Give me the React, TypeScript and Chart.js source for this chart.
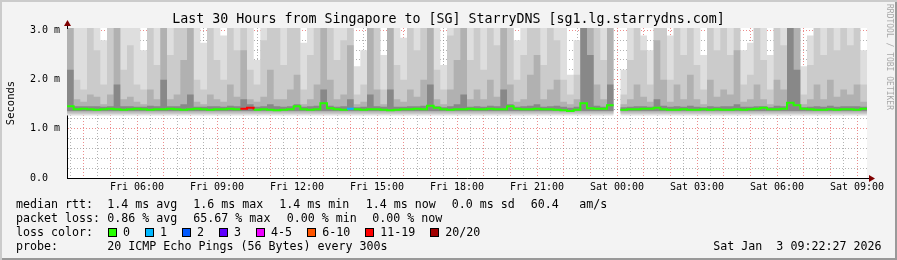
import React, { useEffect, useRef } from "react";
import { Chart, registerables } from "chart.js";

Chart.register(...registerables);

// ---------- data ----------
const SLOT_HOURS = 0.25; // 15-minute smoke slots
const RANGE_HOURS = 30;
const Y_MAX = 3.05;

// smoke layer tops (ms), lightest -> darkest
const smokeTop1 = [
  3.05, 3.05, 3.05, 3.05, 3.05, 2.8, 3.05, 3.05, 3.05, 3.05,
  3.05, 2.6, 3.05, 3.05, 3.05, 3.05, 3.05, 3.05, 3.05, 3.05,
  2.75, 3.05, 3.05, 2.9, 3.05, 3.05, 3.05, 3.05, 2.4, 3.05,
  3.05, 3.05, 3.05, 3.05, 3.05, 2.75, 3.05, 3.05, 3.05, 3.05,
  3.05, 3.05, 3.05, 2.27, 2.6, 3.05, 3.05, 2.5, 3.05, 3.05,
  2.85, 3.05, 3.05, 3.05, 3.05, 3.05, 2.3, 3.05, 3.05, 3.05,
  3.05, 3.05, 3.05, 3.05, 3.05, 3.05, 3.05, 2.8, 3.05, 3.05,
  3.05, 3.05, 3.05, 3.05, 3.05, 2.1, 2.8, 3.05, 3.05, 3.05,
  3.05, 3.05, null, 2.2, 3.05, 3.05, 2.9, 2.6, 3.05, 3.05,
  2.9, 3.05, 3.05, 3.05, 3.05, 2.5, 3.05, 3.05, 3.05, 3.05,
  3.05, 2.6, 2.75, 3.05, 3.05, 2.5, 3.05, 3.05, 3.05, 3.05,
  2.27, 2.9, 3.05, 3.05, 3.05, 3.05, 3.05, 3.05, 3.05, 2.6,
];
const smokeTop2 = [
  3.05, 2.0, 1.8, 3.05, 2.6, 1.9, 3.05, 3.05, 2.2, 2.7,
  1.9, 1.8, 3.05, 2.3, 3.05, 2.5, 3.05, 3.05, 3.05, 2.0,
  1.8, 3.05, 2.4, 2.0, 3.05, 2.6, 3.05, 2.2, 1.9, 2.8,
  3.05, 3.05, 2.3, 3.05, 3.05, 1.8, 2.5, 3.05, 3.05, 3.05,
  2.4, 2.8, 3.05, 1.7, 1.9, 3.05, 3.05, 1.8, 3.05, 2.3,
  2.0, 3.05, 2.6, 3.05, 3.05, 2.2, 1.8, 2.9, 3.05, 3.05,
  2.4, 3.05, 2.2, 3.05, 2.7, 3.05, 3.05, 2.0, 2.5, 3.05,
  3.05, 2.3, 3.05, 2.8, 2.0, 1.7, 2.1, 3.05, 3.05, 3.05,
  2.4, 3.05, null, 1.7, 2.4, 3.05, 2.6, 1.9, 3.05, 3.05,
  2.0, 3.05, 2.5, 3.05, 2.3, 1.8, 3.05, 2.6, 3.05, 2.5,
  3.05, 1.9, 2.1, 3.05, 2.4, 1.8, 3.05, 2.7, 3.05, 3.05,
  1.7, 2.3, 3.05, 2.5, 3.05, 2.6, 3.05, 2.7, 3.05, 1.9,
];
const smokeTop3 = [
  3.05, 1.6, 1.55, 1.7, 1.65, 1.5, 1.7, 3.05, 1.6, 1.65,
  1.55, 1.5, 1.8, 1.6, 3.05, 1.6, 1.7, 2.4, 3.05, 1.55,
  1.5, 1.7, 1.6, 1.55, 1.9, 1.65, 2.6, 1.6, 1.55, 1.65,
  2.2, 1.6, 1.6, 1.8, 2.1, 1.5, 1.6, 1.9, 3.05, 2.0,
  1.6, 1.7, 2.7, 1.5, 1.55, 3.05, 1.8, 1.5, 3.05, 1.6,
  1.55, 1.8, 1.65, 2.0, 3.05, 1.6, 1.5, 1.8, 2.4, 3.05,
  1.6, 1.8, 1.6, 2.0, 1.65, 3.05, 1.9, 1.55, 1.6, 2.1,
  2.5, 1.6, 1.8, 2.0, 1.55, 1.5, 1.6, 3.05, 3.05, 1.9,
  1.6, 3.05, null, 1.5, 1.6, 1.9, 1.65, 1.55, 2.8, 2.0,
  1.55, 1.9, 1.6, 2.1, 1.6, 1.5, 2.0, 1.65, 1.8, 1.7,
  2.6, 1.55, 1.6, 1.9, 1.6, 1.5, 2.0, 1.8, 3.05, 3.05,
  1.5, 1.6, 1.9, 1.6, 2.0, 1.65, 1.8, 1.7, 1.9, 1.55,
];
const smokeTop4 = [
  2.2, 1.46, 1.46, 1.46, 1.46, 1.45, 1.46, 1.9, 1.46, 1.46,
  1.45, 1.45, 1.47, 1.46, 2.0, 1.46, 1.46, 1.5, 1.7, 1.45,
  1.45, 1.46, 1.46, 1.45, 1.47, 1.46, 1.6, 1.5, 1.45, 1.46,
  1.5, 1.46, 1.45, 1.46, 1.5, 1.45, 1.46, 1.47, 1.8, 1.47,
  1.45, 1.46, 1.6, 1.44, 1.45, 1.7, 1.46, 1.45, 1.8, 1.45,
  1.45, 1.46, 1.46, 1.47, 1.9, 1.46, 1.44, 1.46, 1.5, 1.7,
  1.45, 1.46, 1.45, 1.47, 1.46, 1.8, 1.5, 1.45, 1.46, 1.47,
  1.5, 1.45, 1.46, 1.47, 1.45, 1.43, 1.45, 3.05, 2.5, 1.47,
  1.45, 1.9, null, 1.44, 1.45, 1.46, 1.46, 1.45, 1.6, 1.47,
  1.45, 1.46, 1.45, 1.47, 1.45, 1.44, 1.46, 1.45, 1.46, 1.46,
  1.5, 1.45, 1.45, 1.46, 1.46, 1.44, 1.47, 1.46, 3.05, 2.2,
  1.44, 1.45, 1.46, 1.45, 1.47, 1.45, 1.46, 1.46, 1.46, 1.45,
];
const smokeBase = [1.27, 1.3, 1.33, 1.36];

const medianRtt = [
  1.46, 1.4, 1.41, 1.4, 1.39, 1.4, 1.41, 1.4, 1.39, 1.4,
  1.41, 1.4, 1.39, 1.4, 1.4, 1.41, 1.4, 1.39, 1.4, 1.41,
  1.4, 1.39, 1.4, 1.4, 1.41, 1.4, 1.41, 1.43, 1.39, 1.4,
  1.39, 1.38, 1.39, 1.4, 1.46, 1.4, 1.39, 1.4, 1.52, 1.42,
  1.4, 1.39, 1.41, 1.4, 1.39, 1.4, 1.4, 1.39, 1.38, 1.39,
  1.4, 1.4, 1.41, 1.4, 1.47, 1.43, 1.4, 1.39, 1.4, 1.4,
  1.41, 1.4, 1.4, 1.41, 1.4, 1.4, 1.46, 1.41, 1.4, 1.4,
  1.41, 1.4, 1.4, 1.39, 1.38, 1.36, 1.39, 1.52, 1.42, 1.41,
  1.41, 1.48, null, 1.39, 1.4, 1.4, 1.41, 1.41, 1.43, 1.4,
  1.39, 1.39, 1.4, 1.39, 1.39, 1.4, 1.39, 1.4, 1.39, 1.39,
  1.4, 1.39, 1.4, 1.41, 1.43, 1.4, 1.4, 1.41, 1.53, 1.48,
  1.41, 1.4, 1.39, 1.39, 1.4, 1.39, 1.4, 1.4, 1.39, 1.41,
];

const lossCount = [
  0, 0, 0, 0, 0, 0, 0, 0, 0, 0,
  0, 0, 0, 0, 0, 0, 0, 0, 0, 0,
  0, 0, 0, 0, 0, 0, 12, 12, 0, 0,
  0, 0, 0, 0, 0, 0, 0, 0, 0, 0,
  0, 0, 1, 0, 0, 0, 0, 0, 0, 0,
  0, 0, 0, 0, 0, 0, 0, 0, 0, 0,
  0, 0, 0, 0, 0, 0, 0, 0, 0, 0,
  0, 0, 0, 0, 0, 0, 0, 0, 0, 0,
  0, 0, 0, 0, 0, 0, 0, 0, 0, 0,
  0, 0, 0, 0, 0, 0, 0, 0, 0, 0,
  0, 0, 0, 0, 0, 0, 0, 0, 0, 0,
  0, 0, 0, 0, 0, 0, 0, 0, 0, 0,
];

const xTickLabels = [
  "Fri 06:00", "Fri 09:00", "Fri 12:00", "Fri 15:00", "Fri 18:00",
  "Fri 21:00", "Sat 00:00", "Sat 03:00", "Sat 06:00", "Sat 09:00",
];
const FIRST_HALF_HOUR = 0.1258; // 03:30, start is Fri 03:22:27
const FIRST_LABEL_HOUR = 2.6258; // Fri 06:00
const yTickLabels = ["0.0  ", "1.0 m", "2.0 m", "3.0 m"];

const lossLabels = ["0", "1", "2", "3", "4-5", "6-10", "11-19", "20/20"];
const lossMax = [0, 1, 2, 3, 5, 10, 19, 20];
const lossColors = ["#26ff00", "#00b8ff", "#0059ff", "#5e00ff", "#ee00ff", "#ff5500", "#ff0000", "#a10000"];

const titleText = "Last 30 Hours from Singapore to [SG] StarryDNS [sg1.lg.starrydns.com]";
const rttStats = ["1.4 ms avg", "1.6 ms max", "1.4 ms min", "1.4 ms now", "0.0 ms sd", "60.4", "am/s"];
const lossStats = ["0.86 % avg", "65.67 % max", "0.00 % min", "0.00 % now"];
const probeText = "20 ICMP Echo Pings (56 Bytes) every 300s";
const dateText = "Sat Jan  3 09:22:27 2026";

// ---------- layout / style ----------
const rttX = [107.3, 193.3, 279.3, 365.7, 451.7, 530.7, 579.3];
const lossX = [107.3, 193.3, 286.7, 372.3];
const smokeColors = ["#dedede", "#cbcbcb", "#b1b1b1", "#888888"];
const MONO = "'DejaVu Sans Mono', monospace";
const GRID = "rgba(128,128,128,0.6)";
const MGRID = "rgba(222,48,48,0.55)";
const CHAR_W = 7.02;

function steps(values: (number | null)[]) {
  const pts: { x: number; y: number | null }[] = [];
  values.forEach((v, i) => {
    pts.push({ x: i * SLOT_HOURS, y: v });
    pts.push({ x: (i + 1) * SLOT_HOURS, y: v });
  });
  return pts;
}

function lossColor(n: number) {
  for (let i = 0; i < lossMax.length; i++) if (n <= lossMax[i]) return lossColors[i];
  return lossColors[lossColors.length - 1];
}

const plotBg = {
  id: "plotBg",
  beforeDraw(chart: any) {
    const { ctx, chartArea: a } = chart;
    ctx.save();
    ctx.fillStyle = "#ffffff";
    ctx.fillRect(a.left, a.top, a.right - a.left, a.bottom - a.top);
    ctx.restore();
  },
};

const axisArrows = {
  id: "axisArrows",
  afterDraw(chart: any) {
    const { ctx, chartArea: a } = chart;
    const x0 = Math.round(a.left) + 0.5;
    const yb = Math.round(a.bottom) + 0.5;
    ctx.save();
    ctx.strokeStyle = "#000";
    ctx.lineWidth = 1;
    ctx.beginPath();
    ctx.moveTo(x0, a.top + 1);
    ctx.lineTo(x0, a.top - 3);
    ctx.moveTo(a.right - 1, yb);
    ctx.lineTo(a.right + 4, yb);
    ctx.stroke();
    ctx.fillStyle = "#7f0000";
    ctx.beginPath();
    ctx.moveTo(x0 - 3.5, a.top - 2);
    ctx.lineTo(x0 + 3.5, a.top - 2);
    ctx.lineTo(x0, a.top - 8);
    ctx.closePath();
    ctx.fill();
    ctx.beginPath();
    ctx.moveTo(a.right + 2, yb - 3.5);
    ctx.lineTo(a.right + 2, yb + 3.5);
    ctx.lineTo(a.right + 8, yb);
    ctx.closePath();
    ctx.fill();
    ctx.restore();
  },
};

export default function App() {
  const ref = useRef<HTMLCanvasElement>(null);

  useEffect(() => {
    const tops = [smokeTop1, smokeTop2, smokeTop3, smokeTop4];
    const smokeSets = tops
      .map((t, i) => ({
        type: "line" as const,
        data: steps(t),
        borderColor: "rgba(0,0,0,0)",
        borderWidth: 0,
        pointRadius: 0,
        fill: { value: smokeBase[i] },
        backgroundColor: smokeColors[i],
        tension: 0,
      }))
      .reverse(); // darkest first (drawn on top)

    const xTicks: number[] = [];
    for (let v = FIRST_HALF_HOUR; v <= RANGE_HOURS; v += 0.5) xTicks.push(v);

    const chart = new Chart(ref.current!, {
      type: "line",
      data: {
        datasets: [
          {
            data: steps(medianRtt),
            borderColor: lossColors[0],
            borderWidth: 2,
            pointRadius: 0,
            fill: false,
            tension: 0,
            borderCapStyle: "butt",
            segment: {
              borderColor: (c: any) => lossColor(lossCount[Math.floor(c.p0DataIndex / 2)] || 0),
            },
          } as any,
          ...smokeSets,
        ],
      },
      options: {
        animation: false,
        responsive: false,
        devicePixelRatio: 1,
        events: [],
        layout: { padding: { top: 28, right: 30, bottom: 62, left: 0 } },
        plugins: { legend: { display: false }, tooltip: { enabled: false }, title: { display: false } },
        scales: {
          x: {
            type: "linear",
            min: 0,
            max: RANGE_HOURS,
            z: 1,
            afterBuildTicks: (s: any) => {
              s.ticks = xTicks.map((v) => ({ value: v }));
            },
            afterFit: (s: any) => {
              s.height = 20;
            },
            grid: {
              drawTicks: false,
              lineWidth: 1,
              color: (c: any) => {
                const k = Math.round(((c.tick ? c.tick.value : 0) - FIRST_HALF_HOUR) / 0.5);
                return k % 2 === 1 ? MGRID : GRID;
              },
            },
            border: { display: true, color: "#000", width: 1, dash: [1, 2] },
            ticks: {
              autoSkip: false,
              maxRotation: 0,
              padding: 3,
              color: "#000",
              font: { family: MONO, size: 10 },
              callback: (v: any) => {
                const n = (Number(v) - FIRST_LABEL_HOUR) / 3;
                const r = Math.round(n);
                return Math.abs(n - r) < 0.01 && r >= 0 && r < xTickLabels.length ? xTickLabels[r] : "";
              },
            },
          },
          y: {
            type: "linear",
            min: 0,
            max: Y_MAX,
            z: 1,
            afterBuildTicks: (s: any) => {
              s.ticks = Array.from({ length: 16 }, (_, i) => ({ value: i * 0.2 }));
            },
            afterFit: (s: any) => {
              s.width = 67;
            },
            grid: {
              drawTicks: false,
              lineWidth: 1,
              color: (c: any) => (c.index % 5 === 0 ? MGRID : GRID),
            },
            border: { display: true, color: "#000", width: 1, dash: [1, 2] },
            title: {
              display: true,
              text: "Seconds",
              color: "#000",
              font: { family: MONO, size: 10.5 },
              padding: { top: 5, bottom: 0 },
            },
            ticks: {
              autoSkip: false,
              padding: 7,
              color: "#000",
              font: { family: MONO, size: 10 },
              callback: (_v: any, i: number) => (i % 5 === 0 ? yTickLabels[i / 5] : ""),
            },
          },
        },
      } as any,
      plugins: [plotBg, axisArrows],
    });
    return () => chart.destroy();
  }, []);

  const txt = (left: number, top: number, s: string, key: string) => (
    <div
      key={key}
      style={{
        position: "absolute",
        left,
        top,
        fontSize: 11.65,
        lineHeight: "14px",
        whiteSpace: "pre",
      }}
    >
      {s}
    </div>
  );

  const boxes: React.ReactNode[] = [];
  let bx = 108;
  lossLabels.forEach((l, i) => {
    boxes.push(
      <div
        key={"b" + i}
        style={{
          position: "absolute",
          left: bx,
          top: 228,
          width: 7,
          height: 7,
          border: "1px solid #000",
          background: lossColors[i],
        }}
      />
    );
    boxes.push(txt(bx + 15, 225, l, "l" + i));
    bx += 30 + CHAR_W * l.length;
  });

  return (
    <div
      style={{
        position: "absolute",
        left: 0,
        top: 0,
        width: 897,
        height: 260,
        background: "#f3f3f3",
        boxShadow: "inset 2px 2px 0 #cbcbcb, inset -2px -2px 0 #999999",
        fontFamily: MONO,
        color: "#000",
        overflow: "hidden",
      }}
    >
      <canvas ref={ref} width={897} height={260} style={{ position: "absolute", left: 0, top: 0 }} />
      <div
        style={{
          position: "absolute",
          left: 0,
          top: 11,
          width: 897,
          textAlign: "center",
          fontSize: 13.3,
          lineHeight: "16px",
          whiteSpace: "pre",
        }}
      >
        {titleText}
      </div>
      <div
        style={{
          position: "absolute",
          left: 884,
          top: 4,
          fontSize: 8,
          lineHeight: "10px",
          writingMode: "vertical-rl",
          color: "#a8a8a8",
          whiteSpace: "pre",
        }}
      >
        RRDTOOL / TOBI OETIKER
      </div>
      {txt(16, 197, "median rtt:", "r0")}
      {rttStats.map((s, i) => txt(rttX[i], 197, s, "rs" + i))}
      {txt(16, 211, "packet loss:", "p0")}
      {lossStats.map((s, i) => txt(lossX[i], 211, s, "ps" + i))}
      {txt(16, 225, "loss color:", "c0")}
      {boxes}
      {txt(16, 239, "probe:", "pr")}
      {txt(107.3, 239, probeText, "pt")}
      {txt(713.3, 239, dateText, "dt")}
    </div>
  );
}
